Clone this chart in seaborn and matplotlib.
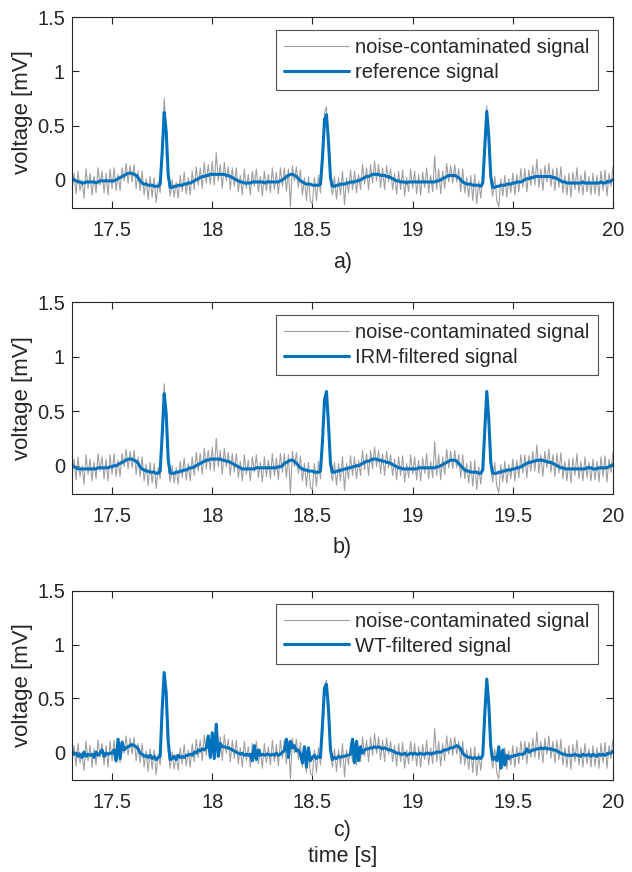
import numpy as np
import pandas as pd
import matplotlib
matplotlib.use("Agg")
import matplotlib.pyplot as plt
import seaborn as sns
from matplotlib.ticker import FuncFormatter

# ---------------- data (mV), sampled every 10 ms from 17.30 s to 20.00 s ----------------
t_start, t_step, n_samples = 17.30, 0.01, 271
time = np.round(t_start + t_step * np.arange(n_samples), 2)

noisy_signal = [
    -0.09, 0.06, -0.13, 0.08, -0.10, 0.00, -0.17, 0.10, -0.08, 0.06,
    -0.14, 0.03, -0.12, 0.11, -0.05, 0.08, -0.12, 0.06, -0.14, 0.10,
    -0.08, 0.11, -0.10, 0.05, -0.10, 0.11, -0.01, 0.15, -0.03, 0.13,
    -0.02, 0.14, -0.08, 0.08, -0.10, 0.08, -0.14, 0.01, -0.18, 0.03,
    -0.16, 0.02, -0.21, -0.02, -0.12, 0.30, 0.75, 0.50, 0.00, -0.15,
    0.00, -0.16, -0.02, -0.17, 0.04, -0.11, 0.07, -0.13, 0.02, -0.14,
    0.08, -0.09, 0.12, -0.05, 0.11, -0.08, 0.16, -0.03, 0.14, -0.04,
    0.17, -0.05, 0.25, -0.01, 0.14, -0.08, 0.16, -0.01, 0.12, -0.09,
    0.11, -0.06, 0.11, -0.11, 0.04, -0.14, 0.10, -0.08, 0.05, -0.14,
    0.08, -0.06, 0.10, -0.11, 0.03, -0.15, 0.08, -0.10, 0.05, -0.12,
    0.11, -0.09, 0.07, -0.13, 0.11, -0.06, 0.11, -0.11, 0.10, -0.25,
    0.13, -0.01, 0.12, -0.07, 0.09, -0.14, 0.02, -0.19, 0.03, -0.20,
    -0.22, 0.02, -0.19, 0.04, -0.12, 0.24, 0.62, 0.67, 0.33, -0.04,
    -0.14, 0.03, -0.18, 0.02, -0.14, 0.08, -0.23, 0.02, -0.12, 0.09,
    -0.09, 0.08, -0.12, 0.05, -0.09, 0.14, -0.04, 0.11, -0.09, 0.14,
    -0.03, 0.17, -0.01, 0.14, -0.07, 0.11, -0.09, 0.13, -0.02, 0.10,
    -0.09, 0.06, -0.13, 0.08, -0.09, 0.09, -0.15, 0.02, -0.11, 0.10,
    -0.08, 0.08, -0.13, 0.05, -0.14, 0.07, -0.07, 0.11, -0.12, 0.04,
    -0.11, 0.22, -0.09, 0.10, -0.13, 0.08, -0.08, 0.15, -0.02, 0.13,
    -0.03, 0.14, -0.02, 0.10, -0.11, 0.10, -0.12, 0.02, -0.16, 0.04,
    -0.19, 0.05, -0.22, -0.01, -0.17, 0.02, 0.34, 0.68, 0.38, -0.03,
    -0.15, 0.03, -0.19, -0.25, 0.01, -0.15, 0.04, -0.16, 0.01, -0.12,
    0.06, -0.14, 0.05, -0.11, 0.10, -0.07, 0.10, -0.11, 0.09, -0.05,
    0.13, -0.05, 0.19, -0.07, 0.10, -0.10, 0.13, -0.02, 0.15, -0.06,
    0.10, -0.10, 0.11, -0.07, 0.12, -0.12, 0.04, -0.14, 0.06, -0.16,
    0.07, -0.09, 0.11, -0.12, 0.04, -0.14, 0.08, -0.11, 0.03, -0.14,
    0.06, -0.13, 0.04, -0.15, 0.08, -0.10, 0.09, -0.15, 0.06, -0.06,
    0.12,
]

reference_signal = [
    0.01, 0.00, -0.01, -0.02, -0.02, -0.03, -0.03, -0.02, -0.02, -0.02,
    -0.02, -0.02, -0.03, -0.02, -0.01, -0.01, -0.01, -0.01, -0.01, -0.01,
    -0.01, -0.01, 0.00, 0.01, 0.02, 0.03, 0.04, 0.05, 0.06, 0.06,
    0.06, 0.05, 0.04, 0.02, -0.01, -0.03, -0.04, -0.04, -0.05, -0.05,
    -0.05, -0.06, -0.06, -0.06, -0.04, 0.25, 0.62, 0.45, 0.05, -0.07,
    -0.07, -0.06, -0.06, -0.05, -0.05, -0.05, -0.04, -0.04, -0.03, -0.03,
    -0.02, -0.01, 0.00, 0.01, 0.02, 0.03, 0.03, 0.04, 0.04, 0.05,
    0.05, 0.05, 0.05, 0.05, 0.05, 0.05, 0.05, 0.04, 0.04, 0.03,
    0.02, 0.01, 0.00, -0.01, -0.02, -0.02, -0.03, -0.03, -0.03, -0.03,
    -0.02, -0.02, -0.02, -0.02, -0.02, -0.02, -0.03, -0.02, -0.02, -0.02,
    -0.02, -0.02, -0.02, -0.02, -0.01, 0.00, 0.01, 0.03, 0.04, 0.05,
    0.05, 0.04, 0.03, 0.01, -0.01, -0.02, -0.03, -0.04, -0.04, -0.04,
    -0.05, -0.05, -0.05, -0.05, -0.04, 0.20, 0.55, 0.60, 0.35, 0.02,
    -0.06, -0.06, -0.05, -0.05, -0.04, -0.04, -0.04, -0.03, -0.03, -0.02,
    -0.02, -0.02, -0.01, -0.01, 0.00, 0.01, 0.02, 0.03, 0.03, 0.04,
    0.05, 0.05, 0.05, 0.05, 0.04, 0.04, 0.04, 0.03, 0.03, 0.02,
    0.01, 0.00, -0.01, -0.01, -0.02, -0.02, -0.02, -0.03, -0.02, -0.02,
    -0.02, -0.02, -0.02, -0.02, -0.02, -0.02, -0.02, -0.02, -0.02, -0.02,
    -0.02, -0.02, -0.01, -0.01, 0.00, 0.01, 0.02, 0.03, 0.04, 0.04,
    0.04, 0.04, 0.03, 0.02, 0.00, -0.02, -0.03, -0.04, -0.04, -0.04,
    -0.05, -0.05, -0.05, -0.05, -0.06, -0.03, 0.30, 0.63, 0.40, 0.03,
    -0.07, -0.07, -0.06, -0.06, -0.05, -0.05, -0.05, -0.04, -0.04, -0.04,
    -0.03, -0.03, -0.02, -0.02, -0.02, -0.01, 0.00, 0.01, 0.01, 0.02,
    0.02, 0.03, 0.03, 0.03, 0.03, 0.03, 0.03, 0.03, 0.03, 0.03,
    0.02, 0.02, 0.01, 0.00, -0.01, -0.02, -0.02, -0.03, -0.03, -0.03,
    -0.03, -0.03, -0.03, -0.03, -0.03, -0.02, -0.03, -0.03, -0.03, -0.03,
    -0.03, -0.03, -0.03, -0.03, -0.02, -0.03, -0.03, -0.02, -0.02, -0.01,
    0.00,
]

irm_filtered = [
    0.00, -0.01, -0.02, -0.03, -0.03, -0.03, -0.03, -0.03, -0.03, -0.03,
    -0.03, -0.03, -0.03, -0.02, -0.02, -0.02, -0.02, -0.02, -0.02, -0.01,
    -0.01, 0.00, 0.00, 0.01, 0.02, 0.03, 0.04, 0.05, 0.06, 0.06,
    0.06, 0.05, 0.04, 0.02, -0.01, -0.03, -0.04, -0.05, -0.05, -0.06,
    -0.06, -0.06, -0.07, -0.07, -0.05, 0.28, 0.66, 0.48, 0.06, -0.07,
    -0.07, -0.07, -0.06, -0.06, -0.05, -0.05, -0.04, -0.04, -0.03, -0.02,
    -0.02, -0.01, 0.00, 0.01, 0.02, 0.03, 0.04, 0.05, 0.05, 0.06,
    0.06, 0.06, 0.06, 0.06, 0.06, 0.05, 0.05, 0.04, 0.04, 0.03,
    0.02, 0.01, 0.00, -0.01, -0.02, -0.03, -0.03, -0.03, -0.03, -0.03,
    -0.03, -0.03, -0.02, -0.02, -0.02, -0.02, -0.02, -0.02, -0.02, -0.02,
    -0.02, -0.02, -0.02, -0.01, -0.01, 0.00, 0.02, 0.03, 0.04, 0.05,
    0.05, 0.04, 0.02, 0.00, -0.02, -0.03, -0.04, -0.04, -0.05, -0.05,
    -0.05, -0.06, -0.06, -0.06, -0.05, 0.22, 0.60, 0.68, 0.38, 0.02,
    -0.06, -0.06, -0.05, -0.05, -0.04, -0.04, -0.03, -0.03, -0.02, -0.02,
    -0.01, -0.01, 0.00, 0.00, 0.01, 0.02, 0.03, 0.04, 0.04, 0.05,
    0.06, 0.06, 0.06, 0.05, 0.05, 0.04, 0.04, 0.03, 0.03, 0.02,
    0.01, 0.00, -0.01, -0.02, -0.02, -0.03, -0.03, -0.03, -0.03, -0.03,
    -0.03, -0.03, -0.03, -0.02, -0.02, -0.02, -0.02, -0.02, -0.02, -0.02,
    -0.02, -0.02, -0.01, -0.01, 0.00, 0.01, 0.02, 0.03, 0.04, 0.05,
    0.05, 0.05, 0.04, 0.02, 0.00, -0.02, -0.04, -0.05, -0.05, -0.06,
    -0.06, -0.06, -0.06, -0.07, -0.07, -0.04, 0.32, 0.68, 0.43, 0.03,
    -0.07, -0.07, -0.07, -0.06, -0.06, -0.05, -0.05, -0.04, -0.04, -0.04,
    -0.03, -0.03, -0.02, -0.02, -0.01, 0.00, 0.01, 0.02, 0.03, 0.03,
    0.04, 0.04, 0.05, 0.05, 0.05, 0.05, 0.04, 0.04, 0.03, 0.03,
    0.02, 0.01, 0.00, -0.01, -0.02, -0.02, -0.03, -0.03, -0.03, -0.03,
    -0.03, -0.03, -0.03, -0.03, -0.03, -0.03, -0.03, -0.02, -0.02, -0.02,
    -0.03, -0.03, -0.03, -0.02, -0.02, -0.02, -0.02, -0.02, -0.01, 0.00,
    0.01,
]

wt_filtered = [
    0.01, -0.02, -0.01, -0.04, -0.02, -0.05, 0.00, -0.04, -0.02, -0.03,
    -0.02, -0.05, 0.00, -0.03, -0.01, 0.02, -0.04, -0.01, -0.02, -0.01,
    -0.01, 0.02, -0.08, 0.12, -0.06, 0.09, 0.02, 0.04, 0.05, 0.06,
    0.07, 0.06, 0.05, 0.03, -0.01, -0.02, -0.04, -0.03, -0.05, -0.03,
    -0.06, -0.04, -0.07, -0.05, -0.04, 0.40, 0.74, 0.55, 0.10, -0.07,
    -0.06, -0.04, -0.07, -0.03, -0.05, -0.04, -0.05, -0.03, -0.03, -0.02,
    -0.03, 0.00, -0.01, 0.02, 0.01, 0.03, 0.02, 0.04, 0.15, -0.05,
    0.18, -0.06, 0.26, -0.04, 0.08, 0.05, 0.05, 0.04, 0.04, 0.03,
    0.02, 0.01, 0.00, -0.01, -0.02, -0.01, -0.03, -0.02, -0.03, -0.02,
    -0.08, 0.06, -0.07, 0.02, -0.03, -0.02, -0.03, -0.02, -0.02, -0.03,
    -0.02, -0.03, -0.01, -0.03, -0.02, 0.00, 0.01, 0.12, -0.05, 0.10,
    0.04, 0.06, 0.01, 0.02, -0.02, -0.10, 0.05, -0.14, 0.04, -0.08,
    -0.05, -0.03, -0.06, -0.04, -0.05, 0.25, 0.60, 0.63, 0.40, 0.02,
    -0.07, -0.05, -0.06, -0.04, -0.05, -0.04, -0.04, -0.03, -0.03, -0.02,
    0.12, -0.10, 0.10, -0.08, 0.05, -0.01, 0.02, 0.03, 0.03, 0.04,
    0.04, 0.05, 0.04, 0.05, 0.04, 0.03, 0.04, 0.03, 0.02, 0.02,
    0.01, 0.00, -0.01, -0.01, -0.02, -0.02, -0.01, -0.03, -0.02, -0.01,
    -0.02, -0.01, -0.02, -0.02, -0.01, -0.02, -0.02, -0.01, -0.01, -0.02,
    -0.01, -0.01, 0.00, 0.00, 0.00, 0.01, 0.02, 0.02, 0.03, 0.04,
    0.04, 0.05, 0.06, 0.05, 0.03, -0.01, -0.03, -0.04, -0.05, -0.05,
    -0.06, -0.05, -0.06, -0.05, -0.06, -0.03, 0.35, 0.68, 0.45, 0.05,
    -0.07, -0.05, -0.08, 0.05, -0.15, 0.02, -0.12, -0.03, -0.06, -0.04,
    -0.04, -0.03, -0.03, -0.02, -0.02, -0.02, -0.01, 0.03, 0.00, 0.01,
    0.02, 0.02, 0.03, 0.03, 0.04, 0.03, 0.04, 0.03, 0.03, 0.03,
    0.02, 0.02, 0.01, 0.00, -0.01, -0.02, -0.02, -0.03, -0.03, -0.03,
    -0.03, -0.02, -0.03, -0.03, -0.04, -0.02, -0.03, -0.03, -0.02, -0.04,
    -0.02, -0.03, -0.04, -0.02, -0.03, -0.02, -0.03, -0.02, -0.01, -0.01,
    0.01,
]

panel_labels = ["a)", "b)", "c)"]
filtered_labels = ["reference signal", "IRM-filtered signal", "WT-filtered signal"]
filtered_series = [reference_signal, irm_filtered, wt_filtered]
noisy_label = "noise-contaminated signal"
y_ticks = [0, 0.5, 1, 1.5]
x_ticks = [17.5, 18, 18.5, 19, 19.5, 20]

# ---------------- style ----------------
sns.set_style("white")
plt.rcParams["font.family"] = ["Liberation Sans", "DejaVu Sans"]
FS = 14.5
FS_LAB = 15.5
FS_Y = 16
TXT = "#262626"
GRAY = "#a0a0a0"
BLUE = "#0072BD"

W, H = 632, 872
fig = plt.figure(figsize=(W / 100, H / 100), dpi=100)

boxes = [(17, 208), (302, 494), (591, 780)]  # top, bottom in px
L, R = 72, 613
label_y = [262, 548, 830]

fmt = FuncFormatter(lambda v, p: "%g" % v)

for k, (top, bot) in enumerate(boxes):
    ax = fig.add_axes([L / W, 1 - bot / H, (R - L) / W, (bot - top) / H])
    df = pd.DataFrame({"time": time, "noisy": noisy_signal, "filt": filtered_series[k]})
    sns.lineplot(data=df, x="time", y="noisy", ax=ax, color=GRAY, linewidth=0.8,
                 estimator=None, sort=False, label=noisy_label)
    sns.lineplot(data=df, x="time", y="filt", ax=ax, color=BLUE, linewidth=2.2,
                 estimator=None, sort=False, label=filtered_labels[k])
    ax.set_xlim(17.3, 20)
    ax.set_ylim(-0.26, 1.5)
    ax.set_xticks(x_ticks)
    ax.set_yticks(y_ticks)
    ax.xaxis.set_major_formatter(fmt)
    ax.yaxis.set_major_formatter(fmt)
    ax.tick_params(direction="in", length=5, width=0.8, colors=TXT, labelsize=FS,
                   top=True, right=True, bottom=True, left=True)
    ax.tick_params(axis="x", pad=9)
    ax.tick_params(axis="y", pad=5)
    for s in ax.spines.values():
        s.set_color(TXT)
        s.set_linewidth(0.8)
    ax.set_xlabel("")
    ax.set_ylabel("voltage [mV]", fontsize=FS_Y, color=TXT)
    ax.yaxis.set_label_coords(-0.073, 0.5)
    leg = ax.legend(loc="upper right", bbox_to_anchor=(0.972, 0.932), borderaxespad=0,
                    fontsize=FS, frameon=True, fancybox=False, handlelength=3.25,
                    handletextpad=0.3, labelspacing=0.28, borderpad=0.4)
    leg.get_frame().set_edgecolor(TXT)
    leg.get_frame().set_linewidth(0.8)
    for t in leg.get_texts():
        t.set_color(TXT)
    fig.text((L + R) / 2 / W, 1 - label_y[k] / H, panel_labels[k], ha="center", va="center",
             fontsize=FS_LAB, color=TXT)

fig.text((L + R) / 2 / W, 1 - 856 / H, "time [s]", ha="center", va="center",
         fontsize=FS_LAB, color=TXT)

fig.savefig("out.png", dpi=100)
